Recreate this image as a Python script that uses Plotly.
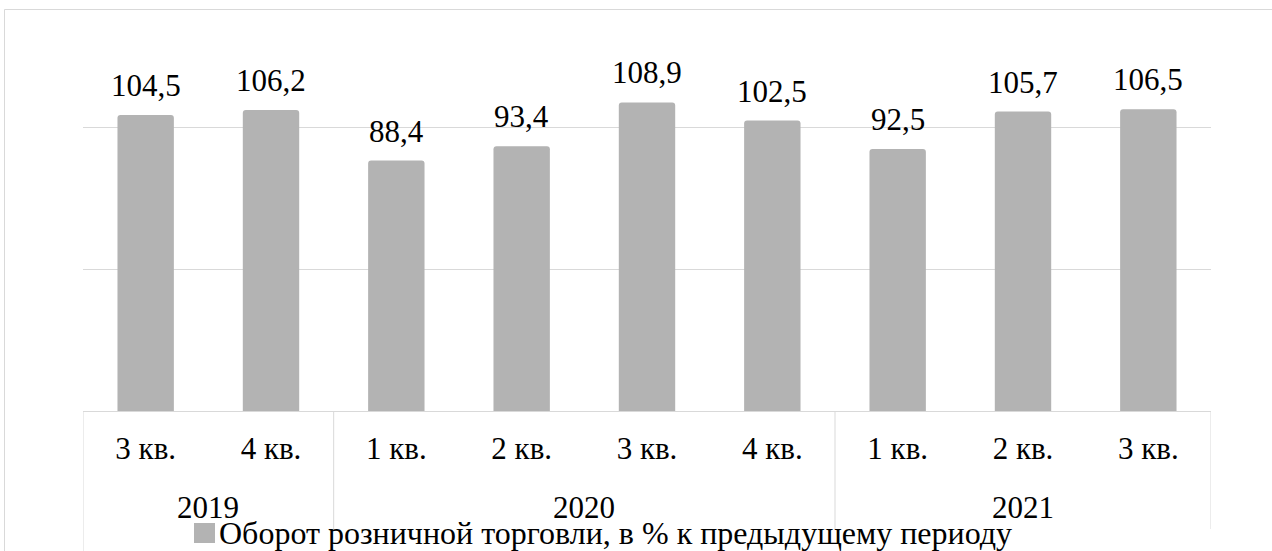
import plotly.graph_objects as go

quarters = ["3 кв.", "4 кв.", "1 кв.", "2 кв.", "3 кв.", "4 кв.", "1 кв.", "2 кв.", "3 кв."]
years = ["2019", "2019", "2020", "2020", "2020", "2020", "2021", "2021", "2021"]
values = [104.5, 106.2, 88.4, 93.4, 108.9, 102.5, 92.5, 105.7, 106.5]
labels = ["104,5", "106,2", "88,4", "93,4", "108,9", "102,5", "92,5", "105,7", "106,5"]
series_name = "Оборот розничной торговли, в % к предыдущему периоду"

FONT = "Liberation Serif"
FS = 31
BAR = "#b3b3b3"
GRID = "#d9d9d9"

xpos = list(range(len(values)))

fig = go.Figure()
fig.add_trace(go.Bar(
    x=xpos, y=values, marker=dict(color=BAR, line=dict(width=0), cornerradius=3),
    name=series_name, showlegend=False, hoverinfo="skip",
))

annotations = []
for x, v, t in zip(xpos, values, labels):
    annotations.append(dict(x=x, y=v, xref="x", yref="y", text=t, showarrow=False,
                            yanchor="bottom", yshift=10,
                            font=dict(family=FONT, size=FS, color="black")))

# year group labels and dividers
groups = []
for i, yv in enumerate(years):
    if not groups or groups[-1][0] != yv:
        groups.append([yv, i, i])
    else:
        groups[-1][2] = i
for yv, a, b in groups:
    annotations.append(dict(x=(a + b) / 2, y=(411 - 508) / 340, xref="x", yref="paper",
                            text=yv, showarrow=False, yanchor="middle",
                            font=dict(family=FONT, size=FS, color="black")))

shapes = []
# outer chart border
shapes.append(dict(type="rect", xref="paper", yref="paper",
                   x0=(4.5 - 83) / 1128, x1=1.3, y0=-0.6, y1=(411 - 9.5) / 340,
                   line=dict(color=GRID, width=1), fillcolor="rgba(0,0,0,0)", layer="below"))
# dividers
bounds = [groups[0][1] - 0.5] + [g[2] + 0.5 for g in groups]
for k, bx in enumerate(bounds):
    y1 = -0.6 if k == 0 else (411 - 529) / 340
    shapes.append(dict(type="line", xref="x", yref="paper", x0=bx, x1=bx, y0=0, y1=y1,
                       line=dict(color=GRID, width=1)))
# legend symbol
shapes.append(dict(type="rect", xref="paper", yref="paper",
                   x0=(194 - 83) / 1128, x1=(215 - 83) / 1128,
                   y0=(411 - 543) / 340, y1=(411 - 523) / 340,
                   line=dict(width=0), fillcolor=BAR))
annotations.append(dict(x=(217 - 83) / 1128, y=(411 - 532.5) / 340, xref="paper", yref="paper",
                        text=series_name, showarrow=False, xanchor="left", yanchor="middle",
                        font=dict(family=FONT, size=32, color="black")))

fig.update_layout(
    width=1272, height=551,
    margin=dict(l=83, r=61, t=71, b=140),
    paper_bgcolor="white", plot_bgcolor="white",
    bargap=0.55,
    showlegend=False,
    font=dict(family=FONT, size=FS, color="black"),
    xaxis=dict(tickmode="array", tickvals=xpos, ticktext=quarters,
               range=[-0.5, len(values) - 0.5], showgrid=False, zeroline=False,
               showline=True, linecolor=GRID, linewidth=1, ticks="",
               ticklabelstandoff=10,
               tickfont=dict(family=FONT, size=FS, color="black")),
    yaxis=dict(range=[0, 120], dtick=50, showticklabels=False, showgrid=True,
               gridcolor=GRID, gridwidth=1, zeroline=False, showline=False, ticks=""),
    annotations=annotations,
    shapes=shapes,
)

fig.write_html("out.html", config={"displayModeBar": False},
               post_script="document.body.style.margin='0';document.body.style.overflow='hidden';")
